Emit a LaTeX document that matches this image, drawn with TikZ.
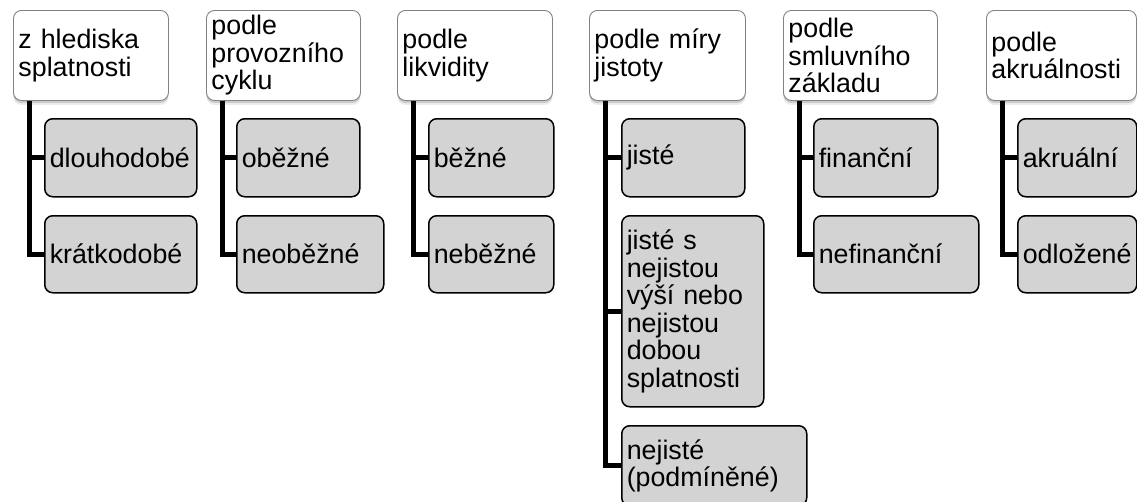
\documentclass[tikz,border=0pt]{standalone}
\usepackage{fontspec}
\setmainfont{Liberation Sans}
\usetikzlibrary{shadows}
\definecolor{childfill}{RGB}{211,211,211}
\definecolor{topborder}{RGB}{130,130,130}
\begin{document}
\begin{tikzpicture}[x=1pt,y=-1pt,
  every node/.style={font=\fontsize{26.8}{27.5}\selectfont, inner xsep=5pt, inner ysep=0pt, align=left, anchor=north west},
  topbox/.style={draw=topborder, line width=0.9pt, fill=white, rounded corners=8pt,
    drop shadow={shadow xshift=0pt, shadow yshift=-2.5pt, opacity=0.3, fill=gray},
    drop shadow={shadow xshift=0pt, shadow yshift=-4.5pt, opacity=0.15, fill=gray}},
  childbox/.style={draw=black, line width=1.5pt, fill=childfill, rounded corners=8pt},
  conn/.style={draw=black, line width=5pt, line join=miter, line cap=butt}]
\clip (0,0) rectangle (1137,501);
\useasboundingbox (0,0) rectangle (1137,501);
% column 1
\node[topbox, minimum width=155pt, minimum height=90pt, text width=145pt] (t1) at (13,10) {z hlediska\\splatnosti};
\node[childbox, minimum width=152pt, minimum height=78pt, text width=142pt] (c11) at (44,118) {dlouhodobé};
\node[childbox, minimum width=152pt, minimum height=77pt, text width=142pt] (c12) at (44,215) {krátkodobé};
% column 2
\node[topbox, minimum width=154pt, minimum height=90pt, text width=144pt] (t2) at (206,10) {podle\\provozního\\cyklu};
\node[childbox, minimum width=123pt, minimum height=78pt, text width=113pt] (c21) at (236,118) {oběžné};
\node[childbox, minimum width=147pt, minimum height=77pt, text width=137pt] (c22) at (236,215) {neoběžné};
% column 3
\node[topbox, minimum width=155pt, minimum height=90pt, text width=145pt] (t3) at (397,10) {podle\\likvidity};
\node[childbox, minimum width=125pt, minimum height=78pt, text width=115pt] (c31) at (428,118) {běžné};
\node[childbox, minimum width=125pt, minimum height=77pt, text width=115pt] (c32) at (428,215) {neběžné};
% column 4
\node[topbox, minimum width=156pt, minimum height=90pt, text width=146pt] (t4) at (589,10) {podle míry\\jistoty};
\node[childbox, minimum width=123pt, minimum height=78pt, text width=113pt] (c41) at (621,118) {jisté};
\node[childbox, minimum width=142pt, minimum height=191pt, text width=132pt] (c42) at (621,215) {jisté s\\nejistou\\výší nebo\\nejistou\\dobou\\splatnosti};
\node[childbox, minimum width=185pt, minimum height=80pt, text width=175pt] (c43) at (621,425) {nejisté\\(podmíněné)};
% column 5
\node[topbox, minimum width=154pt, minimum height=90pt, text width=144pt] (t5) at (783,10) {podle\\smluvního\\základu};
\node[childbox, minimum width=124pt, minimum height=78pt, text width=114pt] (c51) at (813,118) {finanční};
\node[childbox, minimum width=165pt, minimum height=77pt, text width=155pt] (c52) at (813,215) {nefinanční};
% column 6
\node[topbox, minimum width=150pt, minimum height=90pt, text width=140pt] (t6) at (986,10) {podle\\akruálnosti};
\node[childbox, minimum width=119pt, minimum height=78pt, text width=109pt] (c61) at (1017,118) {akruální};
\node[childbox, minimum width=119pt, minimum height=77pt, text width=109pt] (c62) at (1017,215) {odložené};
% connectors
\foreach \t/\c in {t1/c11,t1/c12,t2/c21,t2/c22,t3/c31,t3/c32,t4/c41,t4/c42,t4/c43,t5/c51,t5/c52,t6/c61,t6/c62}
  \draw[conn] ([xshift=16pt]\t.south west) |- (\c.west);
\end{tikzpicture}
\end{document}
